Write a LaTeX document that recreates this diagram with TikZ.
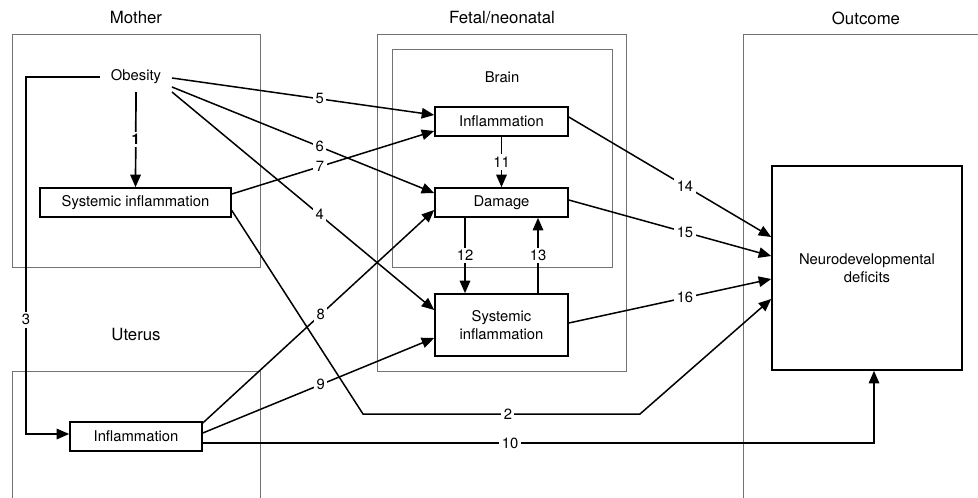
\documentclass[tikz,border=0pt]{standalone}
\usepackage{fontspec}
\setmainfont{TeX Gyre Heros}
\usetikzlibrary{arrows.meta,calc}
\tikzset{
  txt/.style={font=\fontsize{14.8}{17.5}\selectfont, inner sep=0pt},
  ttl/.style={font=\fontsize{16.8}{19}\selectfont, inner sep=0pt},
  box/.style={txt, draw, line width=1.6pt, align=center},
  grp/.style={draw=black!55, line width=1pt},
  con/.style={line width=1.5pt},
  arr/.style={con, -{Triangle[length=12.5pt,width=10.5pt]}},
  lbl/.style={txt, fill=white, inner sep=2.5pt}
}
\begin{document}
\begin{tikzpicture}[x=1pt,y=-1pt]
\useasboundingbox (0,0) rectangle (978,498);
% group frames
\draw[grp] (12,34) rectangle (260,267);
\draw[grp] (12,498) -- (12,371) -- (260,371) -- (260,498);
\draw[grp] (377,34) rectangle (626,371);
\draw[grp] (392,49) rectangle (612,267);
\draw[grp] (978,34) -- (743,34) -- (743,498);
% titles
\node[ttl] (tmo) at (136,18) {Mother};
\node[ttl] (tfe) at (502,18) {Fetal/neonatal};
\node[ttl] (tou) at (866,18) {Outcome};
\node[txt] (tbr) at (502,77) {Brain};
\node[ttl] (tut) at (136,335) {Uterus};
% nodes
\node[txt] (ob) at (136,77) {Obesity};
\node[box, minimum width=191pt, minimum height=29pt] (msi) at (135.5,202.5) {Systemic inflammation};
\node[box, minimum width=133pt, minimum height=29pt] (bi) at (501.5,121.5) {Inflammation};
\node[box, minimum width=133pt, minimum height=29pt] (dm) at (501.5,202.5) {Damage};
\node[box, minimum width=133pt, minimum height=62pt] (fsi) at (501.5,325) {Systemic\\inflammation};
\node[box, minimum width=190pt, minimum height=204pt] (nd) at (867,268) {Neurodevelopmental\\deficits};
\node[box, minimum width=132pt, minimum height=29pt] (ui) at (136,436.5) {Inflammation};
% connectors
\draw[arr, line width=1.7pt] ($(ob)+(0,15)$) -- node[lbl, font=\fontsize{14.8}{17.5}\selectfont\bfseries] {1} (msi.north);
\coordinate (c3a) at ($(ob)+(-110,0)$);
\coordinate (c3b) at ($(ob)+(-110,357)$);
\draw[arr] ($(ob)+(-36,0)$) -- (c3a) -- node[lbl, pos=0.68] {3} (c3b) -- ($(ui.west)+(0,-2.5)$);
\draw[arr] ($(ob)+(36,1)$) -- node[lbl, pos=0.563] {5} ($(bi.west)+(0,-6.5)$);
\draw[arr] ($(ob)+(36,10)$) -- node[lbl, pos=0.563] {6} ($(dm.west)+(0,-9.5)$);
\draw[arr] ($(ob)+(36,15)$) -- node[lbl, pos=0.563] {4} ($(fsi.west)+(0,-15)$);
\draw[arr] ($(msi.east)+(0,-8.5)$) -- node[lbl, pos=0.436] {7} ($(bi.west)+(0,9.5)$);
\coordinate (c2a) at (363,414);
\coordinate (c2b) at (640,414);
\draw[arr] ($(msi.east)+(0,8)$) -- (c2a) -- node[lbl, pos=0.523] {2} (c2b) -- ($(nd.west)+(0,31)$);
\draw[arr] ($(ui.east)+(0,-13.5)$) -- node[lbl, pos=0.51] {8} ($(dm.west)+(0,7.5)$);
\draw[arr] ($(ui.east)+(0,-3.5)$) -- node[lbl, pos=0.51] {9} ($(fsi.west)+(0,13)$);
\draw[arr] ($(ui.east)+(0,6.5)$) -| node[lbl, pos=0.229] {10} ($(nd.south)+(7,0)$);
\draw[arr] (bi.south) -- node[lbl] {11} (dm.north);
\draw[arr] ($(dm.south)+(-36.5,0)$) -- node[lbl] {12} ($(fsi.north)+(-36.5,0)$);
\draw[arr] ($(fsi.north)+(36.5,0)$) -- node[lbl] {13} ($(dm.south)+(36.5,0)$);
\draw[arr] ($(bi.east)+(0,-4.5)$) -- node[lbl, pos=0.574] {14} ($(nd.west)+(0,-31)$);
\draw[arr] ($(dm.east)+(0,-2.5)$) -- node[lbl, pos=0.574] {15} ($(nd.west)+(0,-12)$);
\draw[arr] ($(fsi.east)+(0,-2)$) -- node[lbl, pos=0.574] {16} ($(nd.west)+(0,11)$);
\end{tikzpicture}
\end{document}
